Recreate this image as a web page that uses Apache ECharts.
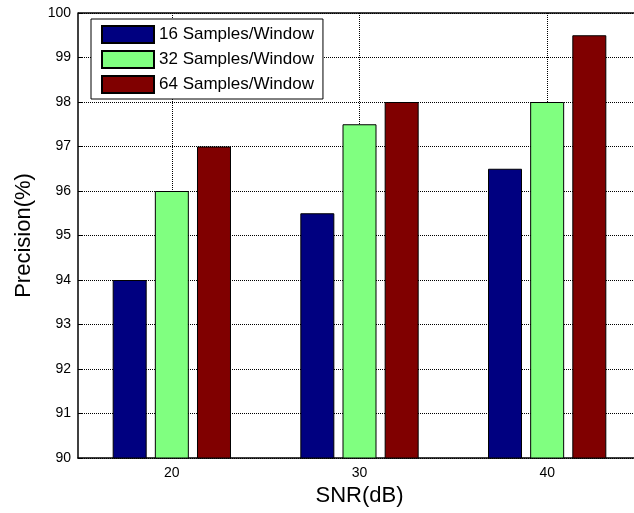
<!DOCTYPE html>
<html>
<head>
<meta charset="utf-8">
<script src="https://cdn.jsdelivr.net/npm/echarts@6/dist/echarts.min.js"></script>
<style>
  html, body { margin: 0; padding: 0; background: #fff; }
  #chart { width: 634px; height: 513px; }
</style>
</head>
<body>
<div id="chart"></div>
<script>
// SNR categories and precision per window size
var snr = ["20", "30", "40"];
var win16 = [94, 95.5, 96.5];
var win32 = [96, 97.5, 98];
var win64 = [97, 98, 99.5];
var seriesNames = ["16 Samples/Window", "32 Samples/Window", "64 Samples/Window"];
var seriesColors = ["#000080", "#80ff80", "#800000"];

var myChart = echarts.init(document.getElementById("chart"));

function barSeries(i, data) {
  return {
    name: seriesNames[i],
    type: "bar",
    data: data,
    barWidth: 34,
    barGap: "24%",
    itemStyle: {
      color: seriesColors[i],
      borderColor: "#000",
      borderWidth: 1
    }
  };
}

var option = {
  backgroundColor: "#fff",
  animation: false,
  textStyle: { fontFamily: "Liberation Sans, Arial, sans-serif" },
  grid: {
    left: 78,
    top: 13,
    height: 445,
    width: 563,
    outerBoundsMode: "none",
    containLabel: false
  },
  legend: {
    orient: "vertical",
    left: 91,
    top: 19,
    icon: "rect",
    itemWidth: 52,
    itemHeight: 17,
    itemGap: 6,
    padding: [6, 9, 5, 10],
    backgroundColor: "#fff",
    borderColor: "#000",
    borderWidth: 1,
    textStyle: { fontSize: 17, lineHeight: 17, color: "#000" },
    data: seriesNames
  },
  xAxis: {
    type: "category",
    data: snr,
    name: "SNR(dB)",
    nameLocation: "middle",
    nameGap: 25,
    nameTextStyle: { fontSize: 22, color: "#000" },
    axisLine: { lineStyle: { color: "#000", width: 1.5 } },
    axisTick: { show: true, inside: true, alignWithLabel: true, length: 5, lineStyle: { color: "#000" } },
    axisLabel: { fontSize: 14, color: "#000", margin: 8 },
    splitLine: {
      show: true,
      alignWithLabel: true,
      lineStyle: { color: "#000", type: [1, 1], width: 1 }
    }
  },
  yAxis: {
    type: "value",
    min: 90,
    max: 100,
    interval: 1,
    name: "Precision(%)",
    nameLocation: "middle",
    nameGap: 43,
    nameTextStyle: { fontSize: 22, color: "#000" },
    axisLine: { show: true, lineStyle: { color: "#000", width: 1.5 } },
    axisTick: { show: true, inside: true, length: 5, lineStyle: { color: "#000" } },
    axisLabel: { fontSize: 14, color: "#000", margin: 7 },
    splitLine: {
      show: true,
      lineStyle: { color: "#000", type: [1, 1], width: 1 }
    }
  },
  series: [
    barSeries(0, win16),
    barSeries(1, win32),
    barSeries(2, win64),
    {
      // solid top border of the plot box
      type: "line",
      data: [],
      markLine: {
        silent: true,
        symbol: "none",
        label: { show: false },
        lineStyle: { color: "#000", type: "solid", width: 1.5 },
        data: [{ yAxis: 100 }]
      }
    }
  ]
};

myChart.setOption(option);
</script>
</body>
</html>
